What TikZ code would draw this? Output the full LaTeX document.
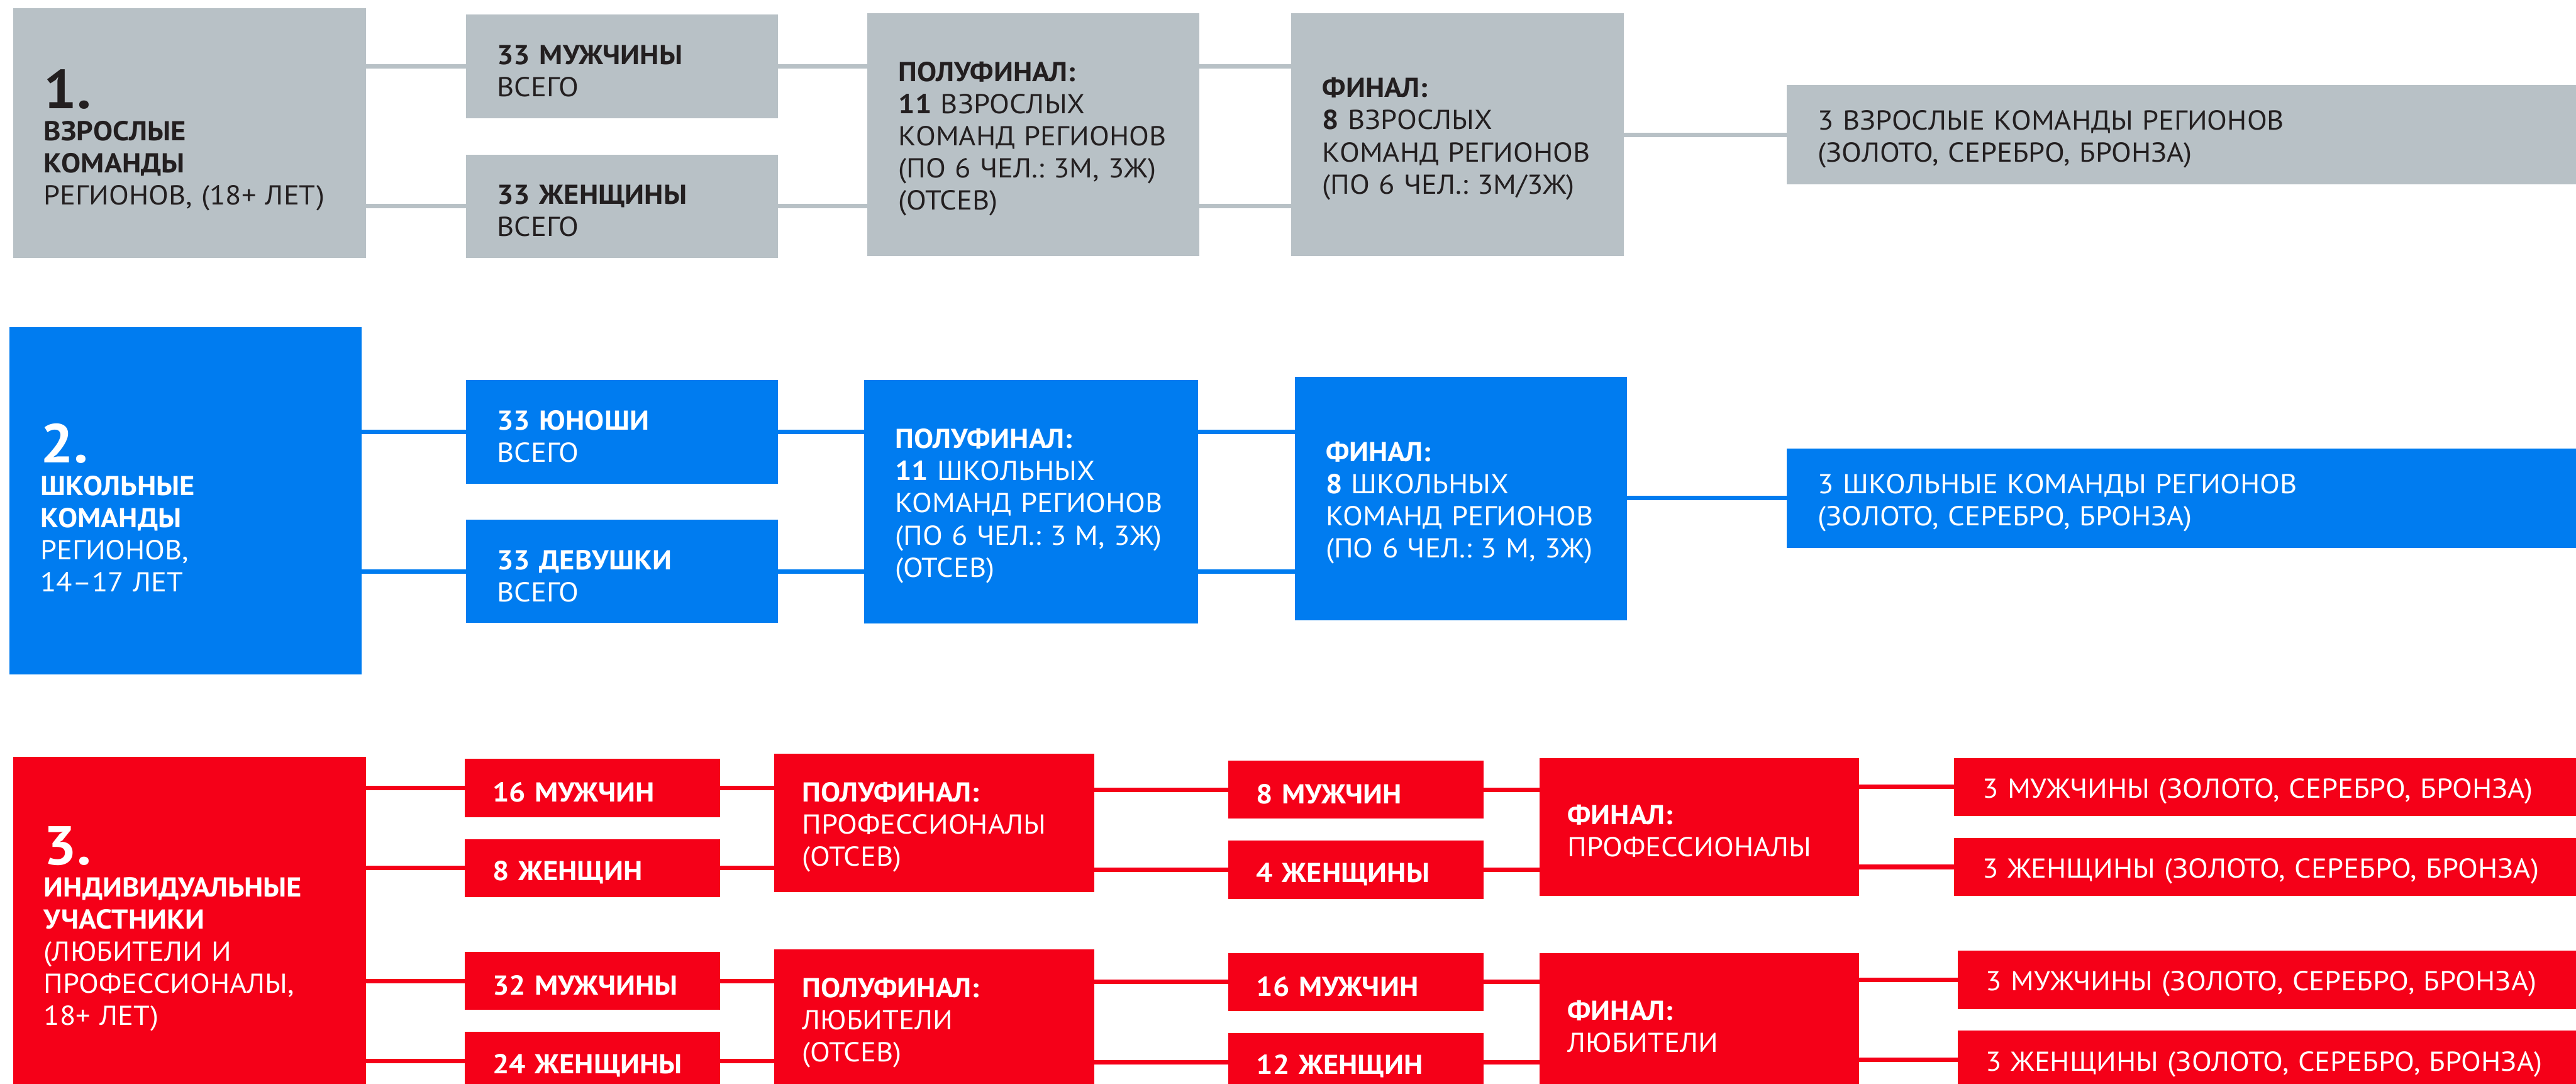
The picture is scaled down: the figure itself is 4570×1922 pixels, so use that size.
\documentclass[tikz,border=0pt]{standalone}
\usepackage{fontspec}
\setmainfont{PT Sans}[FakeStretch=1.07]
\definecolor{greyc}{RGB}{184,193,198}
\definecolor{bluec}{RGB}{0,124,240}
\definecolor{redc}{RGB}{245,0,24}
\definecolor{darkc}{RGB}{35,31,32}
\newcommand\bignum[2][0pt]{{\fontsize{27.6}{16.2}\selectfont\bfseries\rule{0pt}{#1}#2}}
\begin{document}
\begin{tikzpicture}[x=0.01cm,y=-0.01cm,
  box/.style={anchor=north west,inner xsep=0.55cm,inner ysep=0pt,outer sep=0pt,align=left,
    font=\fontsize{13.8}{16.2}\selectfont,execute at begin node={\rule{0pt}{0.5cm}}},
  grey/.style={box,fill=greyc,text=darkc},
  blue/.style={box,fill=bluec,text=white},
  red/.style={box,fill=redc,text=white,inner xsep=0.5cm},
  wire/.style={line width=0.08cm}]
\useasboundingbox (0,0) rectangle (4570,1922);
\clip (0,0) rectangle (4570,1922);
\fill[white] (0,0) rectangle (4570,1922);
% 1. adult teams
\node[grey,text width=5.16cm,minimum height=4.42cm] (a1) at (23,15)
  {\bignum[0.94cm]{1.}\\ \textbf{ВЗРОСЛЫЕ}\\ \textbf{КОМАНДЫ}\\ РЕГИОНОВ,~(18+~ЛЕТ)};
\node[grey,text width=4.43cm,minimum height=1.84cm] (m1) at (827,26) {\textbf{33 МУЖЧИНЫ}\\ ВСЕГО};
\node[grey,text width=4.43cm,minimum height=1.83cm] (w1) at (827,274) {\textbf{33 ЖЕНЩИНЫ}\\ ВСЕГО};
\node[grey,text width=4.78cm,minimum height=4.31cm] (s1) at (1539,23)
  {\textbf{ПОЛУФИНАЛ:}\\ \textbf{11} ВЗРОСЛЫХ\\ КОМАНД~РЕГИОНОВ\\ (ПО~6~ЧЕЛ.:~3М,~3Ж)\\ (ОТСЕВ)};
\node[grey,text width=4.79cm,minimum height=4.31cm] (f1) at (2291,23)
  {\textbf{ФИНАЛ:}\\ \textbf{8} ВЗРОСЛЫХ\\ КОМАНД~РЕГИОНОВ\\ (ПО~6~ЧЕЛ.:~3М/3Ж)};
\node[grey,text width=13.1cm,minimum height=1.76cm] (r1) at (3170,151)
  {3 ВЗРОСЛЫЕ КОМАНДЫ РЕГИОНОВ\\ (ЗОЛОТО, СЕРЕБРО, БРОНЗА)};
% 2. school teams
\node[blue,text width=5.14cm,minimum height=6.16cm] (a2) at (17,580)
  {\bignum[0.94cm]{2.}\\ \textbf{ШКОЛЬНЫЕ}\\ \textbf{КОМАНДЫ}\\ РЕГИОНОВ,\\ 14–17 ЛЕТ};
\node[blue,text width=4.43cm,minimum height=1.84cm] (m2) at (827,674) {\textbf{33 ЮНОШИ}\\ ВСЕГО};
\node[blue,text width=4.43cm,minimum height=1.83cm] (w2) at (827,922) {\textbf{33 ДЕВУШКИ}\\ ВСЕГО};
\node[blue,text width=4.82cm,minimum height=4.31cm] (s2) at (1533,674)
  {\textbf{ПОЛУФИНАЛ:}\\ \textbf{11} ШКОЛЬНЫХ\\ КОМАНД~РЕГИОНОВ\\ (ПО~6~ЧЕЛ.:~3~М,~3Ж)\\ (ОТСЕВ)};
\node[blue,text width=4.79cm,minimum height=4.32cm] (f2) at (2297,668)
  {\textbf{ФИНАЛ:}\\ \textbf{8} ШКОЛЬНЫХ\\ КОМАНД~РЕГИОНОВ\\ (ПО~6~ЧЕЛ.:~3~М,~3Ж)};
\node[blue,text width=13.1cm,minimum height=1.77cm] (r2) at (3170,795)
  {3 ШКОЛЬНЫЕ КОМАНДЫ РЕГИОНОВ\\ (ЗОЛОТО, СЕРЕБРО, БРОНЗА)};
% 3. individual participants
\node[red,inner xsep=0.55cm,text width=5.16cm,minimum height=6.1cm] (a3) at (23,1342)
  {\bignum{3.}\\ \textbf{ИНДИВИДУАЛЬНЫЕ}\\ \textbf{УЧАСТНИКИ}\\ (ЛЮБИТЕЛИ И\\ ПРОФЕССИОНАЛЫ,\\ 18+ ЛЕТ)};
\node[red,text width=3.53cm,minimum height=1.03cm] (pm) at (824,1346) {\textbf{16~МУЖЧИН}};
\node[red,text width=3.53cm,minimum height=1.03cm] (pw) at (824,1488) {\textbf{8~ЖЕНЩИН}};
\node[red,text width=3.53cm,minimum height=1.03cm] (lm) at (824,1688) {\textbf{32~МУЖЧИНЫ}};
\node[red,text width=3.53cm,minimum height=1.03cm] (lw) at (824,1830) {\textbf{24~ЖЕНЩИНЫ}};
\node[red,text width=4.68cm,minimum height=2.45cm] (sp) at (1373,1337)
  {\textbf{ПОЛУФИНАЛ:}\\ ПРОФЕССИОНАЛЫ\\ (ОТСЕВ)};
\node[red,text width=4.68cm,minimum height=2.45cm] (sl) at (1373,1684)
  {\textbf{ПОЛУФИНАЛ:}\\ ЛЮБИТЕЛИ\\ (ОТСЕВ)};
\node[red,text width=3.53cm,minimum height=1.03cm] (pm2) at (2179,1349) {\textbf{8~МУЖЧИН}};
\node[red,text width=3.53cm,minimum height=1.03cm] (pw2) at (2179,1491) {\textbf{4~ЖЕНЩИНЫ}};
\node[red,text width=3.53cm,minimum height=1.03cm] (lm2) at (2179,1690) {\textbf{16~МУЖЧИН}};
\node[red,text width=3.53cm,minimum height=1.03cm] (lw2) at (2179,1832) {\textbf{12~ЖЕНЩИН}};
\node[red,text width=4.67cm,minimum height=2.45cm] (fp) at (2731,1344)
  {\textbf{ФИНАЛ:}\\ ПРОФЕССИОНАЛЫ};
\node[red,text width=4.67cm,minimum height=2.45cm] (fl) at (2731,1690)
  {\textbf{ФИНАЛ:}\\ ЛЮБИТЕЛИ};
\node[red,text width=10.2cm,minimum height=1.03cm] (rpm) at (3467,1344) {3 МУЖЧИНЫ (ЗОЛОТО, СЕРЕБРО, БРОНЗА)};
\node[red,text width=10.2cm,minimum height=1.03cm] (rpw) at (3467,1486) {3 ЖЕНЩИНЫ (ЗОЛОТО, СЕРЕБРО, БРОНЗА)};
\node[red,text width=10.2cm,minimum height=1.03cm] (rlm) at (3473,1686) {3 МУЖЧИНЫ (ЗОЛОТО, СЕРЕБРО, БРОНЗА)};
\node[red,text width=10.2cm,minimum height=1.03cm] (rlw) at (3473,1828) {3 ЖЕНЩИНЫ (ЗОЛОТО, СЕРЕБРО, БРОНЗА)};
% connectors: from / to / level / colour
\foreach \a/\b/\l/\c in {a1/m1/m1/greyc,a1/w1/w1/greyc,m1/s1/m1/greyc,w1/s1/w1/greyc,
    s1/f1/m1/greyc,s1/f1/w1/greyc,f1/r1/r1/greyc,
    a2/m2/m2/bluec,a2/w2/w2/bluec,m2/s2/m2/bluec,w2/s2/w2/bluec,
    s2/f2/m2/bluec,s2/f2/w2/bluec,f2/r2/r2/bluec,
    a3/pm/pm/redc,a3/pw/pw/redc,a3/lm/lm/redc,a3/lw/lw/redc,
    pm/sp/pm/redc,pw/sp/pw/redc,lm/sl/lm/redc,lw/sl/lw/redc,
    sp/pm2/pm2/redc,sp/pw2/pw2/redc,sl/lm2/lm2/redc,sl/lw2/lw2/redc,
    pm2/fp/pm2/redc,pw2/fp/pw2/redc,lm2/fl/lm2/redc,lw2/fl/lw2/redc,
    fp/rpm/rpm/redc,fp/rpw/rpw/redc,fl/rlm/rlm/redc,fl/rlw/rlw/redc}
  \draw[wire,\c] (\a.east |- \l) -- (\b.west |- \l);
\end{tikzpicture}
\end{document}
